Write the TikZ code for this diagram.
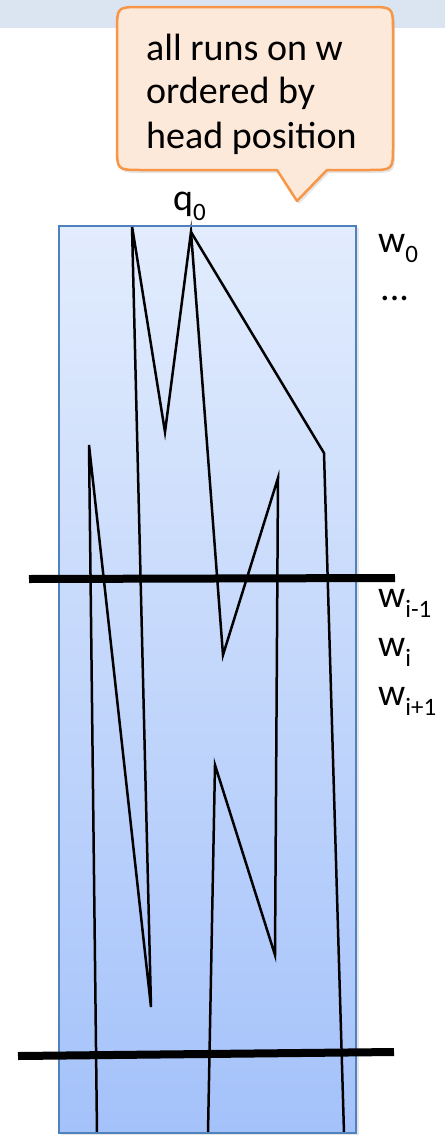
\documentclass[tikz,border=0pt]{standalone}
\usepackage{fontspec}
\setmainfont{Carlito}
\definecolor{band}{RGB}{219,229,241}
\definecolor{tapetop}{RGB}{226,236,253}
\definecolor{tapebot}{RGB}{164,194,250}
\definecolor{tapeedge}{RGB}{79,129,189}
\definecolor{callfill}{RGB}{253,233,217}
\definecolor{calledge}{RGB}{247,150,70}
\newcommand\lsub[1]{\raisebox{-10pt}{\fontsize{25}{25}\selectfont #1}}
\begin{document}
\begin{tikzpicture}[x=1pt,y=-1pt,
  run/.style={line width=2.5pt,line join=miter,line cap=butt},
  bar/.style={line width=8pt},
  lbl/.style={anchor=base west,inner sep=0pt,font=\fontsize{38}{44}\selectfont},
  softshadow/.style={fill=black,opacity=0.10}]
\useasboundingbox (0,0) rectangle (445,1135);
% top band
\fill[band] (0,0) rectangle (445,28);
% tape
\fill[softshadow] (61,228) rectangle (359,1136);
\shade[top color=tapetop,bottom color=tapebot] (59,226) rectangle (356,1133);
% run vertices
\coordinate (b1) at (97,1133);
\coordinate (a1) at (89,445);
\coordinate (v1) at (151,1007);
\coordinate (t1) at (132,226);
\coordinate (v2) at (165,432);
\coordinate (t2) at (191,232);
\coordinate (v3) at (223,655);
\coordinate (a2) at (278,478);
\coordinate (v4) at (275,955);
\coordinate (a3) at (215,765);
\coordinate (b2) at (208,1133);
\coordinate (a4) at (324,453);
\coordinate (b3) at (344,1133);
\draw[run] (b1) -- (a1) -- (v1) -- (t1) -- (v2) -- (t2) -- (v3) -- (a2) -- (v4) -- (a3) -- (b2);
\draw[run] (t2) -- (a4) -- (b3);
\draw[tapeedge,line width=2pt] (59,226) rectangle (356,1133);
% separating bars
\coordinate (s1l) at (29,579);
\coordinate (s1r) at (395,578);
\coordinate (s2l) at (18,1056);
\coordinate (s2r) at (394,1052);
\draw[bar] (s1l) -- (s1r);
\draw[bar] (s2l) -- (s2r);
% callout
\fill[softshadow] (143,10) -- (371,10) .. controls (395,10) .. (395,34) -- (395,149) .. controls (395,173) .. (371,173) -- (329,173) -- (299,204) -- (279,173) -- (143,173) .. controls (119,173) .. (119,149) -- (119,34) .. controls (119,10) .. (143,10) -- cycle;
\draw[fill=callfill,draw=calledge,line width=2.5pt,line join=round]
  (141,7) -- (369,7) .. controls (393,7) .. (393,31) -- (393,146) .. controls (393,170) .. (369,170)
  -- (327,170) -- (297,201) -- (277,170) -- (141,170) .. controls (117,170) .. (117,146)
  -- (117,31) .. controls (117,7) .. (141,7) -- cycle;
\node[lbl] (c1) at (146,60) {all runs on w};
\node[lbl] (c2) at (146,103) {ordered by};
\node[lbl] (c3) at (146,148) {head position};
% labels
\node[lbl] (q0) at (173,210) {q\lsub{0}};
\node[lbl] (w0) at (378,252) {w\lsub{0}};
\node[lbl] (dots) at (380,300) {...};
\node[lbl] (wim) at (378,607) {w\lsub{i-1}};
\node[lbl] (wi) at (378,656) {w\lsub{i}};
\node[lbl] (wip) at (378,705) {w\lsub{i+1}};
\end{tikzpicture}
\end{document}
